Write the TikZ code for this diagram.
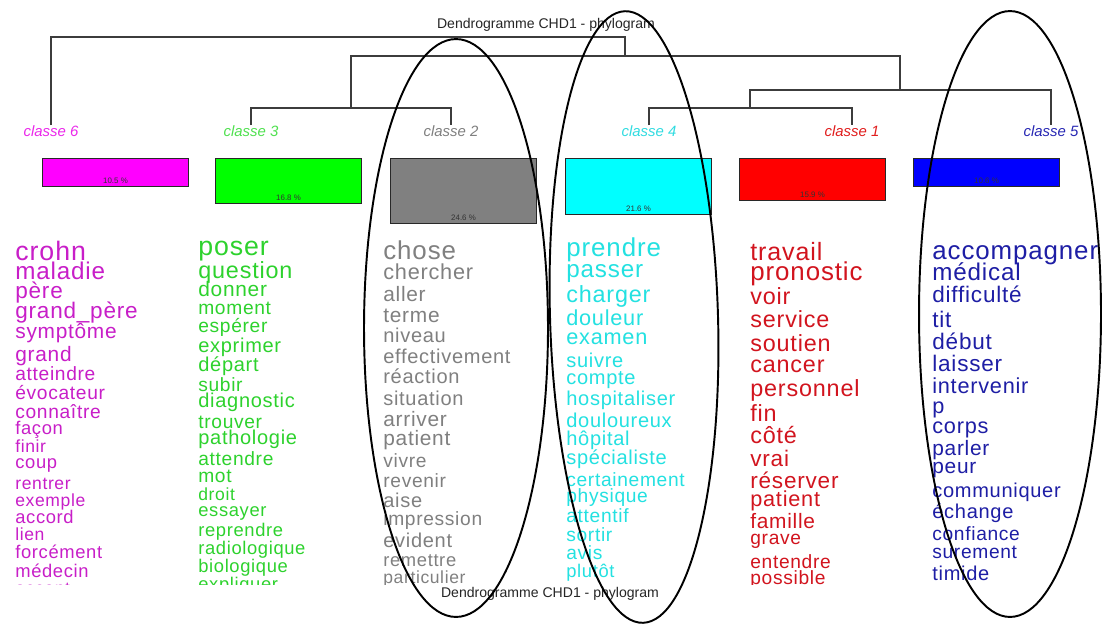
\documentclass[tikz,border=0pt]{standalone}
\usepackage{fontspec}
\setmainfont{Liberation Sans}
\newfontfamily\wordfont[LetterSpace=3.5]{Liberation Sans}
\definecolor{t6}{RGB}{200,30,200}
\definecolor{t3}{RGB}{45,210,45}
\definecolor{t2}{RGB}{128,128,128}
\definecolor{t4}{RGB}{35,225,225}
\definecolor{t1}{RGB}{210,20,30}
\definecolor{t5}{RGB}{30,30,165}
\definecolor{k6c}{RGB}{235,40,235}
\definecolor{k3c}{RGB}{80,225,80}
\definecolor{k4c}{RGB}{50,220,225}
\definecolor{k1c}{RGB}{225,30,30}
\definecolor{k5c}{RGB}{40,40,180}
\definecolor{f6}{RGB}{255,0,255}
\definecolor{f3}{RGB}{0,255,0}
\definecolor{f2}{RGB}{128,128,128}
\definecolor{f4}{RGB}{0,255,255}
\definecolor{f1}{RGB}{255,0,0}
\definecolor{f5}{RGB}{0,0,255}
\definecolor{dendcol}{RGB}{60,60,60}
\definecolor{barline}{RGB}{40,40,40}
\tikzset{
  dend/.style={draw=dendcol, line width=0.8pt},
  ell/.style={draw=black, line width=1.1pt},
  barbox/.style={draw=barline, line width=0.6pt, anchor=north west, inner sep=0pt, minimum width=2.92cm},
  pct/.style={font=\fontsize{4.5}{5}\selectfont, text=black!80, inner sep=0pt},
  cls/.style={font=\fontsize{8.5}{10}\selectfont\itshape, inner sep=0pt},
  ttl/.style={font=\fontsize{8}{9}\selectfont, text=black!85, inner sep=0pt},
  word/.style={anchor=base west, inner sep=0pt},
}
\newcommand\wordcol[4]{%
  \foreach \yy/\ss/\ww in {#4} {
    \pgfmathsetmacro\fs{0.95*\ss}
    \node[word, text=#2, font=\wordfont\fontsize{\fs}{\fs}\selectfont] (#3\yy) at (#1,{\yy+0.5*\fs}) {\ww};
  }%
}
\begin{document}
\begin{tikzpicture}[x=0.02cm, y=-0.02cm]
\useasboundingbox[fill=white] (0,0) rectangle (1104,626);

% titles
\node[ttl] (title) at (546,25) {Dendrogramme CHD1 - phylogram};
\node[ttl] (title2) at (550,594) {Dendrogramme CHD1 - phylogram};

% class labels
\node[cls, text=k6c] (k6) at (51,131) {classe 6};
\node[cls, text=k3c] (k3) at (251,131) {classe 3};
\node[cls, text=t2] (k2) at (451,131) {classe 2};
\node[cls, text=k4c] (k4) at (649,131) {classe 4};
\node[cls, text=k1c] (k1) at (852,131) {classe 1};
\node[cls, text=k5c] (k5) at (1051,131) {classe 5};

% dendrogram
\coordinate (L6) at (51,125);
\coordinate (L3) at (251,125);
\coordinate (L2) at (451,125);
\coordinate (L4) at (649,125);
\coordinate (L1) at (852,125);
\coordinate (L5) at (1051,125);
\coordinate (J23) at (351,108);
\coordinate (J14) at (750,108);
\coordinate (J145) at (900,90);
\coordinate (J12345) at (625,56);
\coordinate (J0) at (51,37);
\draw[dend] (L3) -- (L3|-J23) -- (L2|-J23) -- (L2);
\draw[dend] (L4) -- (L4|-J14) -- (L1|-J14) -- (L1);
\draw[dend] (J14) -- (J14|-J145) -- (L5|-J145) -- (L5);
\draw[dend] (J23) -- (J23|-J12345) -- (J145|-J12345) -- (J145);
\draw[dend] (L6) -- (J0) -- (J12345|-J0) -- (J12345);

% bars
\node[barbox, fill=f6, minimum height=0.56cm] (b6) at (42,158) {};
\node[barbox, fill=f3, minimum height=0.90cm] (b3) at (215,158) {};
\node[barbox, fill=f2, minimum height=1.30cm] (b2) at (390,158) {};
\node[barbox, fill=f4, minimum height=1.12cm] (b4) at (565,158) {};
\node[barbox, fill=f1, minimum height=0.84cm] (b1) at (739,158) {};
\node[barbox, fill=f5, minimum height=0.56cm] (b5) at (913,158) {};
\node[pct] (p6) at ([yshift=3.5pt]b6.south) {10.5 \%};
\node[pct] (p3) at ([yshift=3.5pt]b3.south) {16.8 \%};
\node[pct] (p2) at ([yshift=3.5pt]b2.south) {24.6 \%};
\node[pct] (p4) at ([yshift=3.5pt]b4.south) {21.6 \%};
\node[pct] (p1) at ([yshift=3.5pt]b1.south) {15.9 \%};
\node[pct] (p5) at ([yshift=3.5pt]b5.south) {10.6 \%};

% word columns
\begin{scope}
\clip (0,226) rectangle (1104,584);
\wordcol{15}{t6}{wa}{253/16/crohn, 273/14.5/maladie, 292/13.5/père, 312/13.5/grand\_père,
  333/12.5/symptôme, 356/12.5/grand, 375/11.5/atteindre, 394/11.5/évocateur,
  413/11.5/connaître, 429/11/façon, 448/10.5/finir, 463/11/coup, 484/10.5/rentrer,
  501/10.5/exemple, 518/11/accord, 535/10.5/lien, 553/11/forcément, 572/11/médecin,
  589/10.5/accent}
\wordcol{198}{t3}{wb}{248/16/poser, 272/14/question, 291/12.5/donner, 309/11.5/moment,
  327/11.5/espérer, 347/12/exprimer, 366/12/départ, 386/11.5/subir, 402/12/diagnostic,
  423/11.5/trouver, 439/12/pathologie, 460/11.5/attendre, 477/11.5/mot, 496/10.5/droit,
  511/11/essayer, 531/11/reprendre, 549/11/radiologique, 567/11/biologique, 585/11/expliquer}
\wordcol{383}{t2}{wc}{252/15.5/chose, 273/13/chercher, 296/12.5/aller, 317/12.5/terme,
  337/12/niveau, 358/12/effectivement, 378/12/réaction, 400/12/situation,
  421/12.5/arriver, 440/12.5/patient, 462/11.5/vivre, 482/11.5/revenir, 502/12/aise,
  520/11.5/impression, 542/12/evident, 561/11/remettre, 578/10.5/particulier}
\wordcol{566}{t4}{wd}{249/15.5/prendre, 271/14.5/passer, 296/14/charger, 319/13/douleur,
  338/13/examen, 362/12/suivre, 379/12/compte, 400/12/hospitaliser, 422/12/douloureux,
  440/12/hôpital, 459/12/spécialiste, 481/11.5/certainement, 497/11.5/physique,
  517/11.5/attentif, 536/11.5/sortir, 554/11.5/avis, 572/11/plutôt}
\wordcol{750}{t1}{we}{253/15/travail, 273/15.5/pronostic, 298/14/voir, 321/14/service,
  345/14/soutien, 366/14/cancer, 390/14/personnel, 415/14/fin, 437/14/côté,
  460/13.5/vrai, 482/13.5/réserver, 500/13/patient, 523/12.5/famille, 539/11.5/grave,
  563/11.5/entendre, 579/11.5/possible}
\wordcol{932}{t5}{wf}{252/15.5/accompagner, 274/14.5/médical, 296/13.5/difficulté,
  321/13.5/tit, 343/13.5/début, 365/13.5/laisser, 387/13/intervenir, 407/13/p,
  427/13/corps, 450/12.5/parler, 468/12.5/peur, 492/12/communiquer, 513/12/échange,
  535/11.5/confiance, 553/11.5/surement, 575/12/timide}
\end{scope}

% ellipses
\draw[ell] (456,328) ellipse [x radius=1.84cm, y radius=5.78cm];
\draw[ell, shift={(634,317)}, rotate=1.7] (0,0) ellipse [x radius=1.68cm, y radius=6.12cm];
\draw[ell] (1010,314) ellipse [x radius=1.82cm, y radius=6.06cm];
\end{tikzpicture}
\end{document}
